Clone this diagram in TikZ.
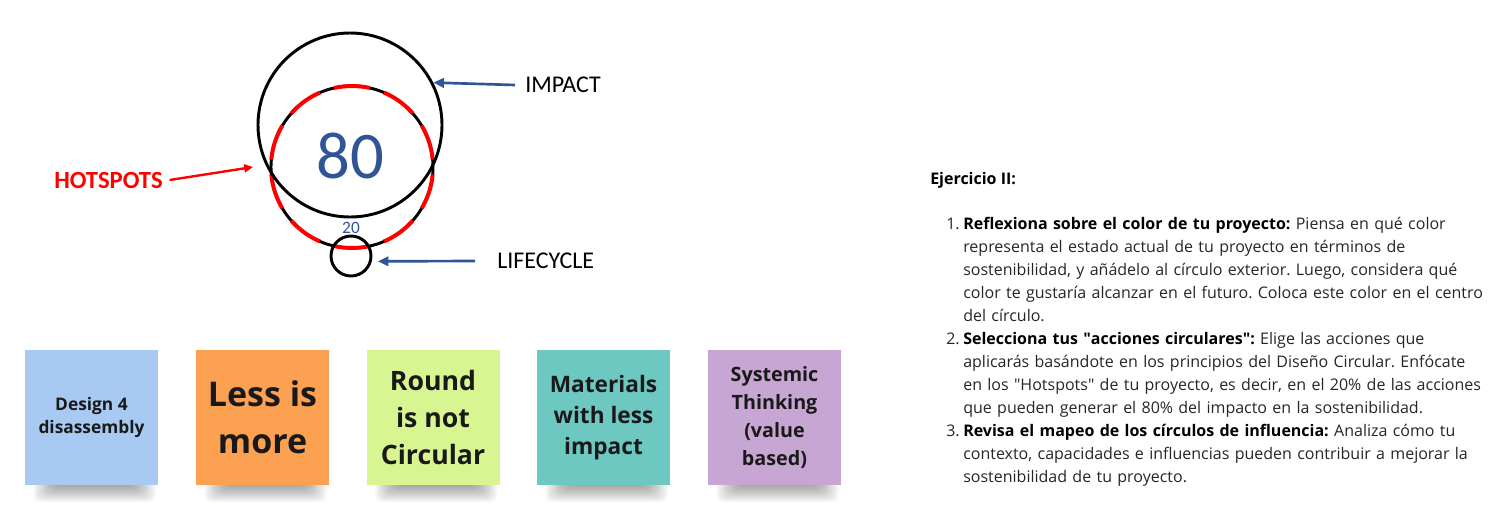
\documentclass[tikz,border=0pt]{standalone}
\usepackage{fontspec}
\setmainfont{Open Sans}
\newfontfamily\calib{Carlito}
\usetikzlibrary{arrows.meta,positioning,calc}
\definecolor{inkblue}{RGB}{47,85,151}
\definecolor{hotred}{RGB}{255,0,0}
\definecolor{noteblue}{RGB}{168,202,242}
\definecolor{noteorange}{RGB}{252,160,82}
\definecolor{notegreen}{RGB}{215,245,145}
\definecolor{noteteal}{RGB}{108,200,193}
\definecolor{notepurple}{RGB}{200,166,212}
\definecolor{body}{RGB}{38,38,38}
\newcommand{\qt}{{\addfontfeature{Ligatures=TeXOff}"}}
\frenchspacing
\tikzset{
  arr/.style={-{Triangle[length=8pt,width=7pt]},line width=2pt,draw=inkblue},
  hotarr/.style={-{Triangle[length=6.5pt,width=6pt]},line width=1.8pt,draw=hotred},
  ring/.style={circle,draw=black,line width=2.2pt,inner sep=0pt},
  lab/.style={font=\calib\fontsize{18}{22}\selectfont,inner sep=0pt},
  note/.style={minimum width=99.75pt,minimum height=101.25pt,inner sep=2pt,align=center,text=black!90},
  para/.style={font=\fontsize{12}{17.25}\selectfont,text=body,inner sep=0pt,align=left}
}

\begin{document}
\begin{tikzpicture}[x=0.75pt,y=-0.75pt]
  \useasboundingbox (0,0) rectangle (1494,507);

  % circles of influence
  \node[ring,minimum size=121.5pt,postaction={draw=hotred,line width=3pt,dash pattern=on 27pt off 11.17pt,dash phase=32.6pt}] (spots) at (352,167) {};
  \node[ring,minimum size=138pt] (impact) at (350,125) {};
  \node[ring,minimum size=30pt] (cycle) at (351,256) {};
  \node[font=\calib\fontsize{50}{50}\selectfont,text=inkblue] (eighty) at (350,156) {80};
  \node[font=\calib\fontsize{13}{13}\selectfont,text=inkblue] (twenty) at (351,228) {20};

  \node[lab,anchor=west] (imp) at (525,85) {IMPACT};
  \node[lab,anchor=west] (life) at (497,261) {LIFECYCLE};
  \node[lab,anchor=east,text=hotred,font=\calib\bfseries\fontsize{18.5}{22}\selectfont] (hot) at (163,180) {HOTSPOTS};
  \draw[arr] ([xshift=-7.5pt]imp.west) -- (impact.27);
  \draw[arr] ([xshift=-16.5pt]life.west) -- ([shift={(4pt,-4pt)}]cycle.east);
  \draw[hotarr] ([xshift=5pt]hot.east) -- ([xshift=-12.4pt]spots.west);

  % sticky notes
  \foreach \x/\c/\sz/\sk/\txt [count=\i] in {91.5/noteblue/13/17.25/{Design 4\\disassembly},
      262.5/noteorange/25.5/35/{Less is\\more},
      433/notegreen/20/27.75/{Round\\is not\\Circular},
      603.5/noteteal/17/23.25/{Materials\\with less\\impact},
      774.5/notepurple/14.8/21/{Systemic\\Thinking\\(value\\based)}}{
    \foreach \k in {0,...,11}{\fill[black,opacity=.035,rounded corners=5pt] (\x-58+2*\k,480) rectangle (\x+64-2*\k,502-1.5*\k);}
    \node[note,fill=\c,font=\bfseries\fontsize{\sz}{\sk}\selectfont] (note\i) at (\x,417.5) {\txt};
  }

  % exercise text
  \node[para,anchor=base west,font=\bfseries\fontsize{12}{17.25}\selectfont,text=black] (title) at (930,184) {Ejercicio II:};
  \node[para,anchor=base east] (num1) at (960,229) {1.};
  \node[para,anchor=base west,text width=420pt] (item1) at (963,229) {\textbf{\color{black}Reflexiona sobre el color de tu proyecto:} Piensa en qué color\\
    representa el estado actual de tu proyecto en términos de\\
    sostenibilidad, y añádelo al círculo exterior. Luego, considera qué\\
    color te gustaría alcanzar en el futuro. Coloca este color en el centro\\
    del círculo.};
  \node[para,anchor=base east] (num2) at (960,344) {2.};
  \node[para,anchor=base west,text width=420pt] (item2) at (963,344) {\textbf{\color{black}Selecciona tus \qt acciones circulares\qt:} Elige las acciones que\\
    aplicarás basándote en los principios del Diseño Circular. Enfócate\\
    en los \qt Hotspots\qt\ de tu proyecto, es decir, en el 20\% de las acciones\\
    que pueden generar el 80\% del impacto en la sostenibilidad.};
  \node[para,anchor=base east] (num3) at (960,436) {3.};
  \node[para,anchor=base west,text width=420pt] (item3) at (963,436) {\textbf{\color{black}Revisa el mapeo de los círculos de influencia:} Analiza cómo tu\\
    contexto, capacidades e influencias pueden contribuir a mejorar la\\
    sostenibilidad de tu proyecto.};
\end{tikzpicture}
\end{document}
